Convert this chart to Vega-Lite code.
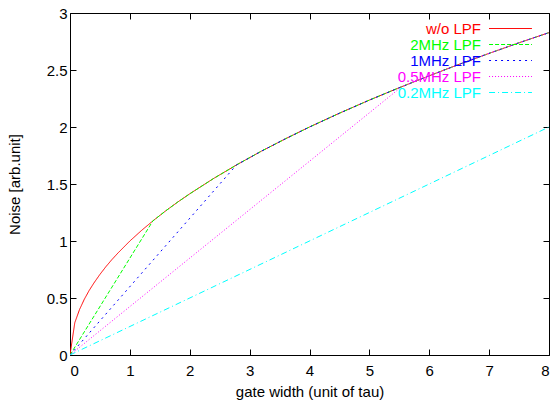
{
  "$schema": "https://vega.github.io/schema/vega-lite/v6.json",
  "width": 479,
  "height": 342,
  "autosize": "none",
  "padding": {"left": 70, "top": 13, "right": 5, "bottom": 51},
  "background": "white",
  "config": {
    "font": "Liberation Sans",
    "view": {"stroke": "black", "strokeWidth": 1},
    "axis": {"grid": false, "domainColor": "black", "tickColor": "black", "labelColor": "black", "titleColor": "black", "labelFont": "Liberation Sans", "titleFont": "Liberation Sans", "labelFontSize": 15, "titleFontSize": 15, "titleFontWeight": "normal"}
  },
  "data": {"values": [
    {"series": "w/o LPF", "x": 0, "y": 0},
    {"series": "w/o LPF", "x": 0.08, "y": 0.283},
    {"series": "w/o LPF", "x": 0.16, "y": 0.4},
    {"series": "w/o LPF", "x": 0.24, "y": 0.49},
    {"series": "w/o LPF", "x": 0.32, "y": 0.566},
    {"series": "w/o LPF", "x": 0.4, "y": 0.632},
    {"series": "w/o LPF", "x": 0.5, "y": 0.707},
    {"series": "w/o LPF", "x": 0.6, "y": 0.775},
    {"series": "w/o LPF", "x": 0.7, "y": 0.837},
    {"series": "w/o LPF", "x": 0.8, "y": 0.894},
    {"series": "w/o LPF", "x": 1.0, "y": 1.0},
    {"series": "w/o LPF", "x": 1.2, "y": 1.095},
    {"series": "w/o LPF", "x": 1.4, "y": 1.183},
    {"series": "w/o LPF", "x": 1.6, "y": 1.265},
    {"series": "w/o LPF", "x": 1.8, "y": 1.342},
    {"series": "w/o LPF", "x": 2.0, "y": 1.414},
    {"series": "w/o LPF", "x": 2.4, "y": 1.549},
    {"series": "w/o LPF", "x": 2.8, "y": 1.673},
    {"series": "w/o LPF", "x": 3.2, "y": 1.789},
    {"series": "w/o LPF", "x": 3.6, "y": 1.897},
    {"series": "w/o LPF", "x": 4.0, "y": 2.0},
    {"series": "w/o LPF", "x": 4.5, "y": 2.121},
    {"series": "w/o LPF", "x": 5.0, "y": 2.236},
    {"series": "w/o LPF", "x": 5.5, "y": 2.345},
    {"series": "w/o LPF", "x": 6.0, "y": 2.449},
    {"series": "w/o LPF", "x": 6.5, "y": 2.55},
    {"series": "w/o LPF", "x": 7.0, "y": 2.646},
    {"series": "w/o LPF", "x": 7.5, "y": 2.739},
    {"series": "w/o LPF", "x": 8.0, "y": 2.828},
    {"series": "2MHz LPF", "x": 0, "y": 0},
    {"series": "2MHz LPF", "x": 1.384, "y": 1.176},
    {"series": "2MHz LPF", "x": 1.6, "y": 1.265},
    {"series": "2MHz LPF", "x": 1.8, "y": 1.342},
    {"series": "2MHz LPF", "x": 2.0, "y": 1.414},
    {"series": "2MHz LPF", "x": 2.4, "y": 1.549},
    {"series": "2MHz LPF", "x": 2.8, "y": 1.673},
    {"series": "2MHz LPF", "x": 3.2, "y": 1.789},
    {"series": "2MHz LPF", "x": 3.6, "y": 1.897},
    {"series": "2MHz LPF", "x": 4.0, "y": 2.0},
    {"series": "2MHz LPF", "x": 4.5, "y": 2.121},
    {"series": "2MHz LPF", "x": 5.0, "y": 2.236},
    {"series": "2MHz LPF", "x": 5.5, "y": 2.345},
    {"series": "2MHz LPF", "x": 6.0, "y": 2.449},
    {"series": "2MHz LPF", "x": 6.5, "y": 2.55},
    {"series": "2MHz LPF", "x": 7.0, "y": 2.646},
    {"series": "2MHz LPF", "x": 7.5, "y": 2.739},
    {"series": "2MHz LPF", "x": 8.0, "y": 2.828},
    {"series": "1MHz LPF", "x": 0, "y": 0},
    {"series": "1MHz LPF", "x": 2.78, "y": 1.667},
    {"series": "1MHz LPF", "x": 3.2, "y": 1.789},
    {"series": "1MHz LPF", "x": 3.6, "y": 1.897},
    {"series": "1MHz LPF", "x": 4.0, "y": 2.0},
    {"series": "1MHz LPF", "x": 4.5, "y": 2.121},
    {"series": "1MHz LPF", "x": 5.0, "y": 2.236},
    {"series": "1MHz LPF", "x": 5.5, "y": 2.345},
    {"series": "1MHz LPF", "x": 6.0, "y": 2.449},
    {"series": "1MHz LPF", "x": 6.5, "y": 2.55},
    {"series": "1MHz LPF", "x": 7.0, "y": 2.646},
    {"series": "1MHz LPF", "x": 7.5, "y": 2.739},
    {"series": "1MHz LPF", "x": 8.0, "y": 2.828},
    {"series": "0.5MHz LPF", "x": 0, "y": 0},
    {"series": "0.5MHz LPF", "x": 5.54, "y": 2.354},
    {"series": "0.5MHz LPF", "x": 6.0, "y": 2.449},
    {"series": "0.5MHz LPF", "x": 6.5, "y": 2.55},
    {"series": "0.5MHz LPF", "x": 7.0, "y": 2.646},
    {"series": "0.5MHz LPF", "x": 7.5, "y": 2.739},
    {"series": "0.5MHz LPF", "x": 8.0, "y": 2.828},
    {"series": "0.2MHz LPF", "x": 0, "y": 0},
    {"series": "0.2MHz LPF", "x": 8.0, "y": 2.0}
  ]},
  "resolve": {"axis": {"x": "independent", "y": "independent"}},
  "layer": [
    {
      "encoding": {
        "x": {"field": "x", "type": "quantitative", "scale": {"domain": [0, 8], "nice": false, "zero": false},
              "axis": {"orient": "bottom", "title": "gate width (unit of tau)", "values": [0,1,2,3,4,5,6,7,8], "format": "~g", "tickSize": -6, "labelPadding": 14, "titlePadding": 6, "domain": false}},
        "y": {"field": "y", "type": "quantitative", "scale": {"domain": [0, 3], "nice": false, "zero": false},
              "axis": {"orient": "left", "title": "Noise [arb.unit]", "values": [0,0.5,1,1.5,2,2.5,3], "format": "~g", "tickSize": -6, "labelPadding": 9, "titlePadding": 24, "domain": false}},
        "color": {"field": "series", "type": "nominal",
                  "scale": {"domain": ["w/o LPF", "2MHz LPF", "1MHz LPF", "0.5MHz LPF", "0.2MHz LPF"], "range": ["#ff0000", "#00ff00", "#0000ff", "#ff00ff", "#00ffff"]},
                  "legend": {"title": null, "orient": "none", "legendX": 433, "legendY": 8, "symbolType": "M-4,0H4", "symbolSize": 115, "symbolStrokeWidth": 1, "labelFontSize": 15, "labelFont": "Liberation Sans", "labelAlign": "right", "labelOffset": -37, "rowPadding": -2.4, "padding": 0,
                             "encode": {"labels": {"update": {"fill": {"scale": "color", "field": "value"}}}}}},
        "strokeDash": {"field": "series", "type": "nominal",
                       "scale": {"domain": ["w/o LPF", "2MHz LPF", "1MHz LPF", "0.5MHz LPF", "0.2MHz LPF"], "range": [[1, 0], [4, 2], [2, 4], [1, 2], [6, 3, 1, 3]]},
                       "legend": null}
      },
      "layer": [
        {"transform": [{"filter": "datum.series === 'w/o LPF'"}], "mark": {"type": "line", "strokeWidth": 1, "clip": true}},
        {"transform": [{"filter": "datum.series === '2MHz LPF'"}], "mark": {"type": "line", "strokeWidth": 1, "clip": true}},
        {"transform": [{"filter": "datum.series === '1MHz LPF'"}], "mark": {"type": "line", "strokeWidth": 1, "clip": true}},
        {"transform": [{"filter": "datum.series === '0.5MHz LPF'"}], "mark": {"type": "line", "strokeWidth": 1, "clip": true}},
        {"transform": [{"filter": "datum.series === '0.2MHz LPF'"}], "mark": {"type": "line", "strokeWidth": 1, "clip": true}}
      ]
    },
    {
      "mark": {"type": "line", "opacity": 0},
      "encoding": {
        "x": {"field": "x", "type": "quantitative", "axis": {"orient": "top", "title": null, "labels": false, "values": [0,1,2,3,4,5,6,7,8], "tickSize": -6, "domain": false}},
        "y": {"field": "y", "type": "quantitative", "axis": {"orient": "right", "title": null, "labels": false, "values": [0,0.5,1,1.5,2,2.5,3], "tickSize": -6, "domain": false}},
        "detail": {"field": "series"}
      }
    }
  ]
}
